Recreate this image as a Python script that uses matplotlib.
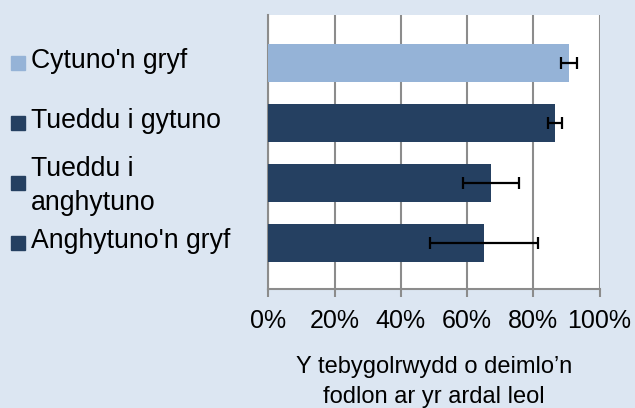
import matplotlib
matplotlib.use("Agg")
import matplotlib.pyplot as plt
import matplotlib.transforms as mtransforms
from matplotlib.ticker import PercentFormatter

# Data
categories = ["Cytuno'n gryf", "Tueddu i gytuno", "Tueddu i\nanghytuno", "Anghytuno'n gryf"]
values = [0.908, 0.866, 0.672, 0.651]
errors = [0.025, 0.021, 0.085, 0.162]
bar_colors = ["#95b3d7", "#254061", "#254061", "#254061"]
x_ticks = [0, 0.2, 0.4, 0.6, 0.8, 1.0]
x_label = "Y tebygolrwydd o deimlo\u2019n\nfodlon ar yr ardal leol"

plt.rcParams['font.family'] = ['Liberation Sans', 'DejaVu Sans']

BG = "#dce6f2"
GRID = "#8c8c8c"

fig = plt.figure(figsize=(6.35, 4.08), dpi=100)
fig.patch.set_facecolor(BG)
ax = fig.add_axes([268.3 / 635, 1 - 289.3 / 408, 331.2 / 635, 274.3 / 408])
ax.set_facecolor("white")

pos = list(range(len(categories)))
ax.barh(pos, values, height=0.628, color=bar_colors, zorder=3)
ax.errorbar(values, pos, xerr=errors, fmt="none", ecolor="black",
            elinewidth=1.6, capsize=4.3, capthick=1.6, zorder=4)

ax.set_xlim(0, 1.0)
ax.set_ylim(3.775, -0.797)
ax.set_xticks(x_ticks)
ax.xaxis.set_major_formatter(PercentFormatter(1.0, decimals=0))
ax.tick_params(axis="x", direction="out", length=6, width=1.5, color=GRID,
               labelsize=18, pad=8.5, labelcolor="black")
ax.set_yticks([])
ax.grid(axis="x", color=GRID, linewidth=1.5, zorder=0)
ax.set_axisbelow(True)

for s in ["top", "right"]:
    ax.spines[s].set_visible(False)
for s in ["left", "bottom"]:
    ax.spines[s].set_color(GRID)
    ax.spines[s].set_linewidth(1.5)

# category labels on the left with coloured squares
trans = mtransforms.blended_transform_factory(fig.transFigure, ax.transData)
for i, (lab, col) in enumerate(zip(categories, bar_colors)):
    ax.plot([18 / 635], [i], marker="s", markersize=10, color=col,
            transform=trans, clip_on=False, linestyle="none")
    dy = 0.05 if "\n" in lab else -0.03
    ax.text(31 / 635, i + dy, lab, transform=trans, fontsize=19.2, va="center",
            ha="left", linespacing=1.4)

ax.set_xlabel(x_label, fontsize=17, linespacing=1.45, multialignment="center")
ax.xaxis.set_label_coords(0.5, -0.243)

fig.savefig("out.png", dpi=100, facecolor=BG)
